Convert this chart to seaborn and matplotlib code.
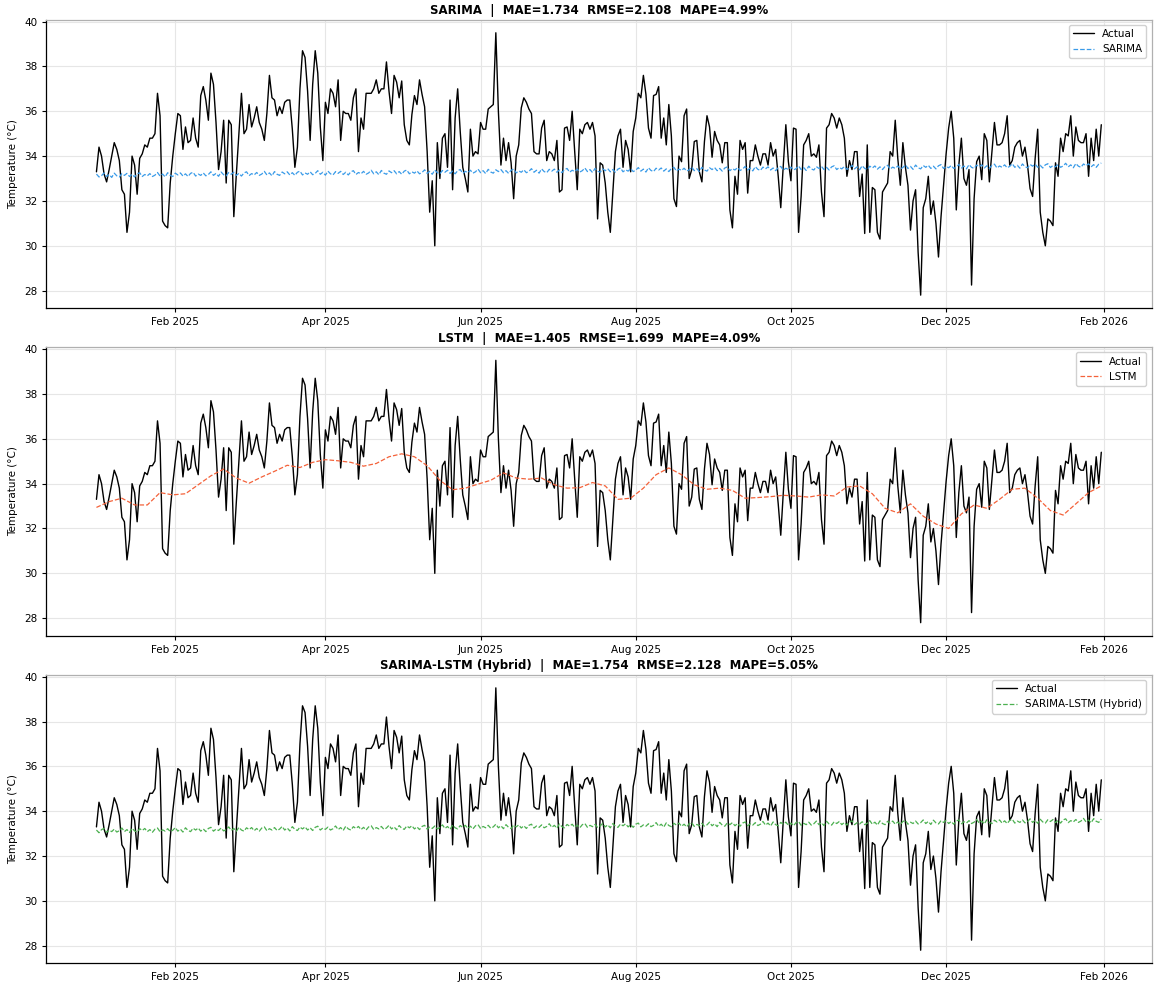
import pandas as pd
import numpy as np
import matplotlib
matplotlib.use("Agg")
import matplotlib.pyplot as plt
import matplotlib.dates as mdates
import seaborn as sns

# daily observations, 2025-01-01 .. 2026-01-31
dates = pd.date_range("2025-01-01", periods=396, freq="D")

actual = [
    33.3, 34.4, 34.0, 33.2, 32.85, 33.4, 34.0, 34.6, 34.3, 33.8,
    32.5, 32.3, 30.6, 31.5, 34.0, 33.6, 32.3, 33.9, 34.1, 34.5,
    34.4, 34.8, 34.8, 35.0, 36.8, 35.8, 31.1, 30.9, 30.8, 32.8,
    34.0, 35.0, 35.9, 35.8, 34.3, 35.3, 34.6, 34.7, 35.7, 34.8,
    34.4, 36.7, 37.1, 36.5, 35.6, 37.7, 37.2, 35.5, 33.4, 34.2,
    35.6, 32.8, 35.6, 35.4, 31.3, 33.2, 35.0, 36.8, 35.0, 35.2,
    36.3, 35.3, 35.7, 36.2, 35.5, 35.2, 34.7, 35.9, 37.6, 36.6,
    36.5, 35.8, 36.2, 35.9, 36.4, 36.5, 36.5, 35.2, 33.5, 34.4,
    37.0, 38.7, 38.4, 36.9, 34.7, 37.2, 38.7, 37.7, 35.3, 33.8,
    36.4, 35.9, 37.0, 36.8, 36.2, 37.4, 34.7, 36.0, 35.9, 35.9,
    35.6, 36.6, 37.0, 34.2, 35.7, 35.2, 36.8, 36.8, 36.8, 37.0,
    37.4, 36.8, 37.0, 37.0, 38.2, 36.9, 35.9, 37.6, 37.3, 36.6,
    37.35, 35.4, 34.7, 34.5, 35.85, 36.7, 36.3, 37.4, 36.75, 36.2,
    34.2, 31.5, 32.9, 30.0, 34.6, 33.0, 34.8, 35.0, 33.5, 36.5,
    32.5, 35.7, 37.0, 35.1, 33.5, 33.0, 32.4, 35.2, 34.0, 34.2,
    34.1, 35.5, 35.2, 35.2, 36.1, 36.2, 36.3, 39.5, 36.0, 33.6,
    34.8, 33.8, 34.6, 33.7, 32.1, 34.0, 34.5, 36.15, 36.6, 36.4,
    36.1, 35.9, 34.2, 34.1, 34.1, 35.25, 35.6, 33.8, 34.2, 34.1,
    33.8, 34.7, 32.4, 32.5, 35.25, 35.3, 34.7, 36.0, 34.2, 32.5,
    35.2, 35.0, 35.4, 35.5, 35.2, 35.5, 34.9, 31.2, 33.7, 33.6,
    32.8, 31.5, 30.6, 32.4, 34.2, 34.9, 35.2, 33.5, 34.7, 34.3,
    33.3, 35.1, 35.7, 36.8, 36.6, 37.6, 36.75, 35.25, 34.8, 36.7,
    36.75, 37.1, 34.8, 35.7, 34.5, 36.3, 34.9, 32.1, 31.75, 34.0,
    33.75, 35.8, 36.1, 33.0, 33.4, 34.65, 34.7, 33.3, 32.85, 34.65,
    35.8, 35.3, 33.95, 35.1, 34.7, 34.5, 33.7, 34.6, 34.6, 31.6,
    30.8, 33.1, 32.3, 34.7, 34.3, 34.6, 32.35, 33.8, 33.8, 34.5,
    34.0, 33.6, 34.1, 34.1, 33.6, 34.6, 34.0, 34.3, 33.1, 31.7,
    33.6, 35.4, 33.75, 32.9, 35.25, 35.2, 30.6, 32.2, 34.5, 34.7,
    35.0, 34.0, 34.1, 33.95, 34.5, 32.4, 31.3, 35.25, 35.4, 35.9,
    35.7, 35.25, 35.7, 35.4, 34.8, 33.1, 33.8, 33.4, 34.2, 34.2,
    32.2, 33.2, 30.55, 34.5, 30.6, 32.6, 32.5, 30.6, 30.3, 32.4,
    32.6, 32.8, 34.2, 34.0, 35.6, 33.9, 32.7, 34.6, 33.5, 32.7,
    30.7, 32.0, 32.5, 29.7, 27.8, 31.7, 32.1, 33.1, 31.4, 32.0,
    31.0, 29.5, 31.3, 32.7, 34.1, 35.25, 36.0, 34.8, 31.6, 33.6,
    34.8, 33.0, 32.7, 33.4, 28.25, 32.1, 33.75, 34.0, 32.95, 35.0,
    34.7, 32.85, 34.2, 35.5, 34.5, 34.5, 34.6, 35.0, 35.8, 33.6,
    33.8, 34.4, 34.6, 34.7, 34.0, 34.4, 33.6, 32.55, 32.2, 33.9,
    35.2, 31.5, 30.6, 30.0, 31.2, 31.1, 30.9, 33.7, 33.1, 34.8,
    34.2, 35.0, 34.9, 35.8, 34.0, 35.3, 34.7, 34.6, 34.6, 35.0,
    33.1, 34.8, 33.8, 35.2, 34.0, 35.4,
]

sarima = [
    33.20, 33.07, 33.13, 33.25, 33.09, 33.18, 33.05,
    33.24, 33.12, 33.07, 33.22, 33.14, 33.23, 33.09,
    33.19, 33.07, 33.21, 33.26, 33.09, 33.18, 33.12,
    33.22, 33.09, 33.15, 33.27, 33.11, 33.20, 33.07,
    33.26, 33.14, 33.09, 33.24, 33.16, 33.25, 33.11,
    33.21, 33.09, 33.23, 33.28, 33.11, 33.20, 33.14,
    33.25, 33.12, 33.18, 33.30, 33.14, 33.23, 33.10,
    33.29, 33.17, 33.12, 33.27, 33.19, 33.28, 33.14,
    33.23, 33.11, 33.25, 33.30, 33.13, 33.22, 33.16,
    33.27, 33.14, 33.20, 33.32, 33.16, 33.25, 33.12,
    33.31, 33.19, 33.14, 33.29, 33.21, 33.30, 33.16,
    33.26, 33.14, 33.28, 33.33, 33.16, 33.25, 33.19,
    33.30, 33.17, 33.23, 33.35, 33.19, 33.28, 33.15,
    33.33, 33.21, 33.16, 33.31, 33.23, 33.32, 33.18,
    33.28, 33.16, 33.30, 33.35, 33.18, 33.27, 33.21,
    33.32, 33.19, 33.25, 33.37, 33.21, 33.30, 33.17,
    33.36, 33.24, 33.19, 33.34, 33.26, 33.35, 33.21,
    33.31, 33.19, 33.33, 33.38, 33.21, 33.30, 33.24,
    33.34, 33.21, 33.27, 33.39, 33.23, 33.32, 33.19,
    33.38, 33.26, 33.21, 33.36, 33.28, 33.37, 33.23,
    33.33, 33.21, 33.35, 33.40, 33.23, 33.32, 33.26,
    33.37, 33.24, 33.30, 33.42, 33.26, 33.35, 33.22,
    33.41, 33.29, 33.24, 33.39, 33.31, 33.40, 33.26,
    33.35, 33.23, 33.37, 33.42, 33.25, 33.34, 33.28,
    33.39, 33.26, 33.32, 33.44, 33.28, 33.37, 33.24,
    33.43, 33.31, 33.26, 33.41, 33.33, 33.42, 33.28,
    33.38, 33.26, 33.40, 33.45, 33.28, 33.37, 33.31,
    33.42, 33.29, 33.35, 33.47, 33.31, 33.40, 33.27,
    33.45, 33.33, 33.28, 33.43, 33.35, 33.44, 33.30,
    33.40, 33.28, 33.42, 33.47, 33.30, 33.39, 33.33,
    33.44, 33.31, 33.37, 33.49, 33.33, 33.42, 33.29,
    33.48, 33.36, 33.31, 33.46, 33.38, 33.47, 33.33,
    33.43, 33.31, 33.45, 33.50, 33.33, 33.42, 33.36,
    33.46, 33.33, 33.39, 33.51, 33.35, 33.44, 33.31,
    33.50, 33.38, 33.33, 33.48, 33.40, 33.49, 33.35,
    33.45, 33.33, 33.47, 33.52, 33.35, 33.44, 33.38,
    33.49, 33.36, 33.42, 33.54, 33.38, 33.47, 33.34,
    33.53, 33.41, 33.36, 33.51, 33.43, 33.52, 33.38,
    33.47, 33.35, 33.49, 33.54, 33.37, 33.46, 33.40,
    33.51, 33.38, 33.44, 33.56, 33.40, 33.49, 33.36,
    33.55, 33.43, 33.38, 33.53, 33.45, 33.54, 33.40,
    33.50, 33.38, 33.52, 33.57, 33.40, 33.49, 33.43,
    33.54, 33.41, 33.47, 33.59, 33.43, 33.52, 33.39,
    33.57, 33.45, 33.40, 33.55, 33.47, 33.56, 33.42,
    33.52, 33.40, 33.54, 33.59, 33.42, 33.51, 33.45,
    33.56, 33.43, 33.49, 33.61, 33.45, 33.54, 33.41,
    33.60, 33.48, 33.43, 33.58, 33.50, 33.59, 33.45,
    33.55, 33.43, 33.57, 33.62, 33.45, 33.54, 33.48,
    33.58, 33.45, 33.51, 33.63, 33.47, 33.56, 33.43,
    33.62, 33.50, 33.45, 33.60, 33.52, 33.61, 33.47,
    33.57, 33.45, 33.59, 33.64, 33.47, 33.56, 33.50,
    33.61, 33.48, 33.54, 33.66, 33.50, 33.59, 33.46,
    33.65, 33.53, 33.48, 33.63, 33.55, 33.64, 33.50,
    33.59, 33.47, 33.61, 33.66, 33.49, 33.58, 33.52,
    33.63, 33.50, 33.56, 33.68, 33.52, 33.61, 33.48,
    33.67, 33.55, 33.50, 33.65, 33.57, 33.66, 33.52,
    33.62, 33.50, 33.64, 33.69,
]

hybrid = [
    33.16, 33.04, 33.18, 33.23, 33.06, 33.15, 33.09,
    33.20, 33.07, 33.13, 33.25, 33.09, 33.18, 33.05,
    33.24, 33.12, 33.07, 33.22, 33.14, 33.23, 33.09,
    33.18, 33.06, 33.20, 33.25, 33.08, 33.17, 33.11,
    33.22, 33.09, 33.15, 33.27, 33.11, 33.20, 33.07,
    33.26, 33.14, 33.09, 33.24, 33.16, 33.25, 33.11,
    33.21, 33.09, 33.23, 33.28, 33.11, 33.20, 33.14,
    33.25, 33.12, 33.18, 33.30, 33.14, 33.23, 33.10,
    33.28, 33.16, 33.11, 33.26, 33.18, 33.27, 33.13,
    33.23, 33.11, 33.25, 33.30, 33.13, 33.22, 33.16,
    33.27, 33.14, 33.20, 33.32, 33.16, 33.25, 33.12,
    33.31, 33.19, 33.14, 33.29, 33.21, 33.30, 33.16,
    33.26, 33.14, 33.28, 33.33, 33.16, 33.25, 33.19,
    33.29, 33.16, 33.22, 33.34, 33.18, 33.27, 33.14,
    33.33, 33.21, 33.16, 33.31, 33.23, 33.32, 33.18,
    33.28, 33.16, 33.30, 33.35, 33.18, 33.27, 33.21,
    33.32, 33.19, 33.25, 33.37, 33.21, 33.30, 33.17,
    33.36, 33.24, 33.19, 33.34, 33.26, 33.35, 33.21,
    33.30, 33.18, 33.32, 33.37, 33.20, 33.29, 33.23,
    33.34, 33.21, 33.27, 33.39, 33.23, 33.32, 33.19,
    33.38, 33.26, 33.21, 33.36, 33.28, 33.37, 33.23,
    33.33, 33.21, 33.35, 33.40, 33.23, 33.32, 33.26,
    33.37, 33.24, 33.30, 33.42, 33.26, 33.35, 33.22,
    33.40, 33.28, 33.23, 33.38, 33.30, 33.39, 33.25,
    33.35, 33.23, 33.37, 33.42, 33.25, 33.34, 33.28,
    33.39, 33.26, 33.32, 33.44, 33.28, 33.37, 33.24,
    33.43, 33.31, 33.26, 33.41, 33.33, 33.42, 33.28,
    33.38, 33.26, 33.40, 33.45, 33.28, 33.37, 33.31,
    33.41, 33.28, 33.34, 33.46, 33.30, 33.39, 33.26,
    33.45, 33.33, 33.28, 33.43, 33.35, 33.44, 33.30,
    33.40, 33.28, 33.42, 33.47, 33.30, 33.39, 33.33,
    33.44, 33.31, 33.37, 33.49, 33.33, 33.42, 33.29,
    33.48, 33.36, 33.31, 33.46, 33.38, 33.47, 33.33,
    33.42, 33.30, 33.44, 33.49, 33.32, 33.41, 33.35,
    33.46, 33.33, 33.39, 33.51, 33.35, 33.44, 33.31,
    33.50, 33.38, 33.33, 33.48, 33.40, 33.49, 33.35,
    33.45, 33.33, 33.47, 33.52, 33.35, 33.44, 33.38,
    33.49, 33.36, 33.42, 33.54, 33.38, 33.47, 33.34,
    33.52, 33.40, 33.35, 33.50, 33.42, 33.51, 33.37,
    33.47, 33.35, 33.49, 33.54, 33.37, 33.46, 33.40,
    33.51, 33.38, 33.44, 33.56, 33.40, 33.49, 33.36,
    33.55, 33.43, 33.38, 33.53, 33.45, 33.54, 33.40,
    33.50, 33.38, 33.52, 33.57, 33.40, 33.49, 33.43,
    33.53, 33.40, 33.46, 33.58, 33.42, 33.51, 33.38,
    33.57, 33.45, 33.40, 33.55, 33.47, 33.56, 33.42,
    33.52, 33.40, 33.54, 33.59, 33.42, 33.51, 33.45,
    33.56, 33.43, 33.49, 33.61, 33.45, 33.54, 33.41,
    33.60, 33.48, 33.43, 33.58, 33.50, 33.59, 33.45,
    33.54, 33.42, 33.56, 33.61, 33.44, 33.53, 33.47,
    33.58, 33.45, 33.51, 33.63, 33.47, 33.56, 33.43,
    33.62, 33.50, 33.45, 33.60, 33.52, 33.61, 33.47,
    33.57, 33.45, 33.59, 33.64, 33.47, 33.56, 33.50,
    33.61, 33.48, 33.54, 33.66, 33.50, 33.59, 33.46,
    33.64, 33.52, 33.47, 33.62, 33.54, 33.63, 33.49,
    33.59, 33.47, 33.61, 33.66, 33.49, 33.58, 33.52,
    33.63, 33.50, 33.56, 33.68, 33.52, 33.61, 33.48,
    33.67, 33.55, 33.50, 33.65,
]

# LSTM forecast is smooth, read every 5 days
lstm_dates = pd.date_range("2025-01-01", periods=80, freq="5D")
lstm = [
    32.94, 33.20, 33.35, 33.05, 33.05, 33.60, 33.50, 33.55, 33.95, 34.35,
    34.65, 34.25, 34.02, 34.30, 34.55, 34.82, 34.72, 34.95, 35.07, 35.02,
    34.95, 34.78, 34.90, 35.20, 35.33, 35.20, 34.80, 34.15, 33.73, 33.80,
    33.98, 34.15, 34.48, 34.25, 34.20, 34.25, 33.95, 33.80, 33.82, 34.05,
    33.90, 33.30, 33.35, 33.80, 34.40, 34.70, 34.40, 33.95, 33.75, 33.80,
    33.70, 33.35, 33.38, 33.42, 33.48, 33.45, 33.40, 33.50, 33.45, 33.85,
    33.90, 33.55, 32.90, 32.70, 33.10, 32.55, 32.20, 32.00, 32.65, 33.05,
    32.90, 33.30, 33.75, 33.80, 33.35, 32.80, 32.60, 33.10, 33.60, 33.90,
]

models = ["SARIMA", "LSTM", "SARIMA-LSTM (Hybrid)"]
mae = [1.734, 1.405, 1.754]
rmse = [2.108, 1.699, 2.128]
mape = [4.99, 4.09, 5.05]
colors = ["#3a9be8", "#f4623a", "#4cb050"]

sns.set_style("whitegrid")
plt.rcParams["font.family"] = ["DejaVu Sans"]
plt.rcParams.update({"text.color": "black", "axes.labelcolor": "black",
                     "xtick.color": "black", "ytick.color": "black"})

fig, axes = plt.subplots(3, 1, figsize=(11.55, 9.83), dpi=100)
fig.subplots_adjust(left=0.04, right=0.997, top=0.98, bottom=0.02, hspace=0.135)

preds = [(dates, sarima), (lstm_dates, lstm), (dates, hybrid)]

for i, ax in enumerate(axes):
    sns.lineplot(x=dates, y=actual, ax=ax, color="black", linewidth=1.0, label="Actual")
    px, py = preds[i]
    sns.lineplot(x=px, y=py, ax=ax, color=colors[i], linewidth=0.9,
                 linestyle="--", label=models[i])
    ax.set_title(f"{models[i]}  |  MAE={mae[i]:.3f}  RMSE={rmse[i]:.3f}  MAPE={mape[i]:.2f}%",
                 fontsize=8.5, fontweight="bold", pad=4, color="black")
    ax.set_ylabel("Temperature (°C)", fontsize=7.5)
    ax.set_xlabel("")
    ax.xaxis.set_major_locator(mdates.MonthLocator(bymonth=[2, 4, 6, 8, 10, 12]))
    ax.xaxis.set_major_formatter(mdates.DateFormatter("%b %Y"))
    ax.tick_params(labelsize=7.5, length=3, left=True, bottom=True,
                   color="black", labelcolor="black")
    ax.grid(True, color="#e6e6e6", linewidth=0.8)
    for side in ["left", "bottom"]:
        ax.spines[side].set_color("black")
        ax.spines[side].set_linewidth(0.9)
    for side in ["top", "right"]:
        ax.spines[side].set_color("#b0b0b0")
        ax.spines[side].set_linewidth(0.9)
    ax.legend(loc="upper right", fontsize=7.5, frameon=True, framealpha=0.9)

fig.savefig("out.png", dpi=100)
